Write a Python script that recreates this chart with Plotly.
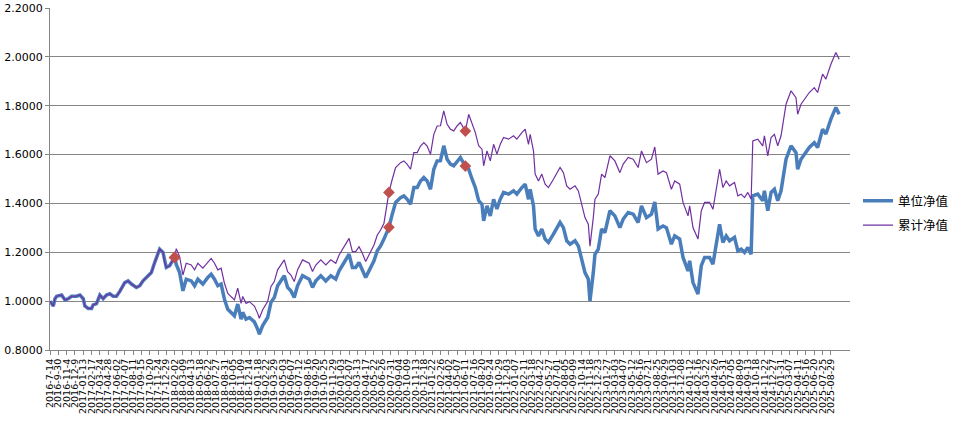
import plotly.graph_objects as go

# observation index (weekly, category-like positions) and values
obs_idx = [0,2,3,4,7,9,11,13,16,18,20,21,23,25,26,28,30,32,34,36,38,40,42,45,47,49,52,54,56,59,61,63,65,66,68,69,70,72,75,
           76,78,80,82,85,87,89,92,95,97,99,101,103,105,107,109,111,113,115,116,118,120,123,125,126,128,131,133,135,137,139,
           141,143,145,147,149,152,154,156,158,160,163,166,169,172,174,177,180,182,184,186,188,190,192,195,197,199,201,
           204,206,208,211,213,215,217,219,221,223,225,227,229,231,233,235,237,239,241,243,245,247,250,
           252,254,256,258,260,261,263,265,267,269,271,273,276,279,281,284,286,288,289,291,292,294,296,298,300,303,305,
           307,309,311,313,316,318,320,322,324,325,327,328,330,332,334,337,340,343,345,348,351,354,356,359,362,364,366,
           369,371,374,376,379,381,384,385,387,390,392,394,397,399,401,403,405,407,409,412,414,416,418,420,422,423,426,
           429,430,432,434,436,438,440,443,444,446,449,450,452,454,457,460,462,465,467,470,473,475]

unit_nav = [1.000,0.980,1.010,1.020,1.025,1.005,1.010,1.020,1.020,1.025,1.010,0.980,0.970,0.970,0.985,0.990,1.025,1.010,
            1.025,1.030,1.020,1.020,1.040,1.076,1.083,1.070,1.056,1.063,1.083,1.104,1.117,1.158,1.190,1.213,1.200,1.158,
            1.138,1.145,1.179,
            1.150,1.117,1.042,1.090,1.083,1.063,1.090,1.070,1.097,1.110,1.090,1.063,1.070,1.008,0.967,0.954,0.940,0.988,
            0.926,0.954,0.926,0.933,0.915,0.885,0.865,0.900,0.933,0.995,1.015,1.063,1.083,1.104,1.056,1.042,1.015,1.063,
            1.104,1.097,1.090,1.056,1.083,1.104,1.083,1.104,1.090,1.124,1.158,1.192,1.138,1.138,1.158,1.131,1.097,1.124,
            1.165,1.206,1.226,1.254,
            1.302,1.356,1.404,1.424,1.431,1.417,1.397,1.465,1.465,1.492,1.506,1.492,1.458,1.540,1.574,1.575,1.636,1.581,
            1.561,1.554,1.574,1.588,1.553,
            1.540,1.500,1.465,1.411,1.397,1.329,1.390,1.349,1.417,1.377,1.417,1.445,1.438,1.452,1.438,1.465,1.479,1.417,
            1.458,1.390,1.295,1.267,1.295,1.254,1.240,1.274,1.301,1.322,1.301,1.247,1.233,1.247,1.226,1.172,1.117,1.090,
            1.000,1.117,1.192,1.213,1.295,1.281,1.370,1.349,1.301,1.336,1.363,1.356,1.322,1.390,1.342,1.356,1.406,1.295,
            1.308,1.301,1.233,1.267,1.254,1.179,1.124,1.165,1.076,1.029,1.145,1.179,1.179,1.151,1.240,1.315,1.240,1.267,
            1.247,1.261,1.206,1.213,1.199,1.220,1.192,1.431,1.438,1.411,1.452,1.370,1.445,1.458,1.411,1.452,1.581,1.602,
            1.636,1.608,1.540,1.581,1.602,1.629,1.649,1.629,1.704,1.684,1.745,1.793,1.765]

acc_nav = [1.000,0.980,1.010,1.020,1.025,1.005,1.010,1.020,1.020,1.025,1.010,0.980,0.970,0.970,0.985,0.990,1.025,1.010,
           1.025,1.030,1.020,1.020,1.040,1.076,1.083,1.070,1.056,1.063,1.083,1.104,1.117,1.158,1.190,1.213,1.200,1.158,
           1.138,1.145,1.179,
           1.215,1.182,1.107,1.155,1.148,1.128,1.155,1.135,1.162,1.175,1.155,1.128,1.135,1.073,1.032,1.019,1.005,1.053,
           0.991,1.019,0.991,0.998,0.980,0.950,0.930,0.965,0.998,1.060,1.080,1.128,1.148,1.169,1.121,1.107,1.080,1.128,
           1.169,1.162,1.155,1.121,1.148,1.169,1.148,1.169,1.155,1.189,1.223,1.257,1.203,1.203,1.223,1.196,1.162,1.189,
           1.230,1.271,1.291,1.319,
           1.445,1.499,1.547,1.567,1.574,1.560,1.540,1.608,1.608,1.635,1.649,1.635,1.601,1.683,1.717,1.718,1.779,1.724,
           1.704,1.697,1.717,1.731,1.696,
           1.765,1.725,1.690,1.636,1.622,1.554,1.615,1.574,1.642,1.602,1.642,1.670,1.663,1.677,1.663,1.690,1.704,1.642,
           1.683,1.615,1.520,1.492,1.520,1.479,1.465,1.499,1.526,1.547,1.526,1.472,1.458,1.472,1.451,1.397,1.342,1.315,
           1.225,1.342,1.417,1.438,1.520,1.506,1.595,1.574,1.526,1.561,1.588,1.581,1.547,1.615,1.567,1.581,1.631,1.520,
           1.533,1.526,1.458,1.492,1.479,1.404,1.349,1.390,1.301,1.254,1.370,1.404,1.404,1.376,1.465,1.540,1.465,1.492,
           1.472,1.486,1.431,1.438,1.424,1.445,1.417,1.656,1.663,1.636,1.677,1.595,1.670,1.683,1.636,1.677,1.806,1.827,
           1.861,1.833,1.765,1.806,1.827,1.854,1.874,1.854,1.929,1.909,1.970,2.018,1.990]

# dividend dates (marked with diamonds)
dividend_idx = [75, 204, 250]

tick_labels = ["2016-7-14", "2016-9-30", "2016-11-4", "2016-12-9",
    "2017-01-13","2017-02-17","2017-03-24","2017-04-28","2017-06-02","2017-07-07","2017-08-11","2017-09-15",
    "2017-10-20","2017-11-24","2017-12-29","2018-02-02","2018-03-09","2018-04-13","2018-05-18","2018-06-22",
    "2018-07-27","2018-08-31","2018-10-05","2018-11-09","2018-12-14","2019-01-18","2019-02-22","2019-03-29",
    "2019-05-03","2019-06-07","2019-07-12","2019-08-16","2019-09-20","2019-10-25","2019-11-29","2020-01-03",
    "2020-02-07","2020-03-13","2020-04-17","2020-05-22","2020-06-26","2020-07-31","2020-09-04","2020-10-09",
    "2020-11-13","2020-12-18","2021-01-22","2021-02-26","2021-04-02","2021-05-07","2021-06-11","2021-07-16",
    "2021-08-20","2021-09-24","2021-10-29","2021-12-03","2022-01-07","2022-02-11","2022-03-18","2022-04-22",
    "2022-05-27","2022-07-01","2022-08-05","2022-09-09","2022-10-14","2022-11-18","2022-12-23","2023-01-27",
    "2023-03-03","2023-04-07","2023-05-12","2023-06-16","2023-07-21","2023-08-25","2023-09-29","2023-11-03",
    "2023-12-08","2024-01-12","2024-02-16","2024-03-22","2024-04-26","2024-05-31","2024-07-05","2024-08-09",
    "2024-09-13","2024-10-18","2024-11-22","2024-12-27","2025-01-31","2025-03-07","2025-04-11","2025-05-16",
    "2025-06-20","2025-07-25","2025-08-29"]
tick_step = 5
tick_pos = [i * tick_step for i in range(len(tick_labels))]

series_names = ["单位净值", "累计净值"]

fig = go.Figure()
fig.add_trace(go.Scatter(x=obs_idx, y=unit_nav, mode="lines", name=series_names[0], legendgroup="a",
                         line=dict(color="#4A7EBB", width=3.5)))
fig.add_trace(go.Scatter(x=obs_idx, y=acc_nav, mode="lines", name=series_names[1], legendgroup="b",
                         line=dict(color="#7030A0", width=1.2)))

pos = {v: k for k, v in enumerate(obs_idx)}
mx, my = [], []
for d in dividend_idx:
    k = pos[d]
    for arr in (unit_nav, acc_nav):
        mx.append(d)
        my.append(arr[k])
fig.add_trace(go.Scatter(x=mx, y=my, mode="markers", showlegend=False, hoverinfo="skip",
                         marker=dict(symbol="diamond", size=9, color="#C0504D")))

fig.update_layout(
    width=962, height=426,
    margin=dict(l=50, r=110, t=8, b=76),
    paper_bgcolor="white", plot_bgcolor="white",
    font=dict(family="DejaVu Sans", color="#000000"),
    legend=dict(x=1.01, y=0.40, xanchor="left", yanchor="middle", itemwidth=30,
                font=dict(family="Noto Sans CJK SC", size=12.5, color="#000000"),
                bgcolor="rgba(0,0,0,0)", tracegroupgap=5, borderwidth=0),
    showlegend=True,
)
fig.update_xaxes(
    range=[0, 481.5], tickmode="array", tickvals=tick_pos, ticktext=tick_labels,
    tickangle=-90, tickfont=dict(family="DejaVu Sans", size=9.5),
    showgrid=False, zeroline=False, showline=True, linecolor="#868686", linewidth=1,
    ticks="outside", ticklen=4, tickcolor="#868686", automargin=False,
)
fig.update_yaxes(
    range=[0.8, 2.2], dtick=0.2, tick0=0.8, tickformat=".4f",
    tickfont=dict(family="DejaVu Sans", size=11),
    showgrid=True, gridcolor="#868686", gridwidth=1, zeroline=False,
    showline=True, linecolor="#868686", linewidth=1,
    ticks="outside", ticklen=4, tickcolor="#868686", automargin=False,
)

fig.write_html("out.html", config={"displayModeBar": False},
               post_script="document.body.style.margin='0';document.body.style.overflow='hidden';")
